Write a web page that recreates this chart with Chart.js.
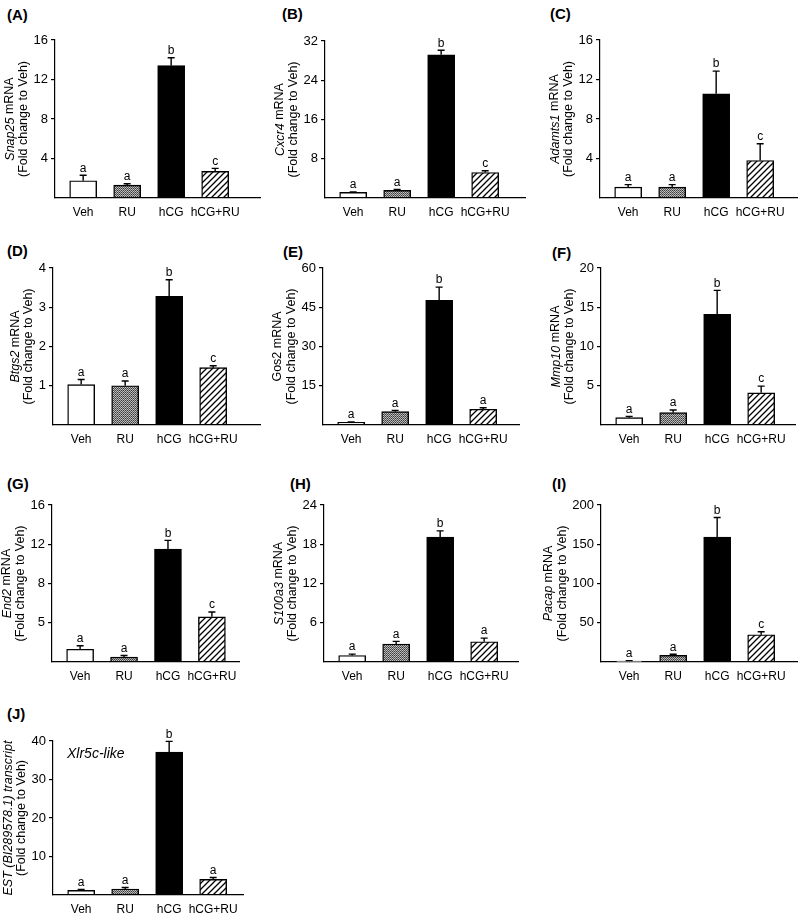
<!DOCTYPE html>
<html>
<head>
<meta charset="utf-8">
<script src="https://cdn.jsdelivr.net/npm/chart.js@4.4.1/dist/chart.umd.min.js"></script>
<style>
  body { margin: 0; background: #fff; }
  #fig { position: relative; width: 800px; height: 915px; overflow: hidden; font-family: "Liberation Sans", Arial, sans-serif; }
  #fig canvas { position: absolute; }
  .tag { position: absolute; font-weight: bold; font-size: 15px; line-height: 15px; color: #000; }
</style>
</head>
<body>
<div id="fig"></div>
<script>
// groups on the x axis, same for every panel
const groups = ['Veh', 'RU', 'hCG', 'hCG+RU']

// (A) Snap25
const snap25 = [1.75, 1.3, 13.4, 2.7]
const snap25Err = [0.55, 0.15, 0.8, 0.3]
const snap25Sig = ['a', 'a', 'b', 'c']
const snap25Ticks = ['4', '8', '12', '16']
// (B) Cxcr4
const cxcr4 = [1.15, 1.55, 29.2, 5.2]
const cxcr4Err = [0.1, 0.2, 0.9, 0.35]
const cxcr4Sig = ['a', 'a', 'b', 'c']
const cxcr4Ticks = ['8', '16', '24', '32']
// (C) Adamts1
const adamts1 = [1.1, 1.1, 10.55, 3.8]
const adamts1Err = [0.25, 0.25, 2.3, 1.7]
const adamts1Sig = ['a', 'a', 'b', 'c']
const adamts1Ticks = ['4', '8', '12', '16']
// (D) Btgs2
const btgs2 = [1.03, 1.0, 3.28, 1.46]
const btgs2Err = [0.13, 0.12, 0.42, 0.05]
const btgs2Sig = ['a', 'a', 'b', 'c']
const btgs2Ticks = ['1', '2', '3', '4']
// (E) Gos2
const gos2 = [1.0, 5.1, 47.6, 6.0]
const gos2Err = [0.2, 0.5, 5.1, 0.6]
const gos2Sig = ['a', 'a', 'b', 'a']
const gos2Ticks = ['15', '30', '45', '60']
// (F) Mmp10
const mmp10 = [0.93, 1.57, 14.1, 4.1]
const mmp10Err = [0.17, 0.35, 3.05, 0.85]
const mmp10Sig = ['a', 'a', 'b', 'c']
const mmp10Ticks = ['5', '10', '15', '20']
// (G) End2
const end2 = [1.3, 0.5, 11.5, 4.6]
const end2Err = [0.35, 0.17, 0.9, 0.5]
const end2Sig = ['a', 'a', 'b', 'c']
const end2Ticks = ['5', '8', '12', '16']
// (H) S100a3
const s100a3 = [1.0, 2.75, 19.1, 3.1]
const s100a3Err = [0.2, 0.4, 0.95, 0.55]
const s100a3Sig = ['a', 'a', 'b', 'a']
const s100a3Ticks = ['6', '12', '18', '24']
// (I) Pacap
const pacap = [1.3, 8.5, 159, 34.7]
const pacapErr = [0.5, 1.3, 25, 3.8]
const pacapSig = ['a', 'a', 'b', 'c']
const pacapTicks = ['50', '100', '150', '200']
// (J) EST BI289578.1
const est = [1.2, 1.55, 37.1, 4.05]
const estErr = [0.26, 0.4, 2.8, 0.5]
const estSig = ['a', 'a', 'b', 'a']
const estTicks = ['10', '20', '30', '40']

Chart.defaults.font.family = '"Liberation Sans", Arial, sans-serif'
Chart.defaults.color = '#000'

const YW = 62      // room for y ticks + title
const XH = 24      // room for x labels
const PT = 14      // top padding for letters above bars
const STEP = 44    // px between bar centres

function makeFill(kind) {
    if (kind === 'white') return '#ffffff'
    if (kind === 'black') return '#000000'
    const t = document.createElement('canvas')
    const c = t.getContext('2d')
    if (kind === 'dots') {
        t.width = 2; t.height = 2
        c.fillStyle = '#3a3a3a'; c.fillRect(0, 0, 1, 1)
        c.fillStyle = '#5a5a5a'; c.fillRect(1, 1, 1, 1)
        c.fillStyle = '#b0b0b0'; c.fillRect(1, 0, 1, 1)
        c.fillStyle = '#c4c4c4'; c.fillRect(0, 1, 1, 1)
    } else {
        const s = 6
        t.width = s; t.height = s
        c.fillStyle = '#fff'; c.fillRect(0, 0, s, s)
        c.strokeStyle = '#000'; c.lineWidth = 1.3
        c.beginPath()
        c.moveTo(0, s); c.lineTo(s, 0)
        c.moveTo(-1, 1); c.lineTo(1, -1)
        c.moveTo(s - 1, s + 1); c.lineTo(s + 1, s - 1)
        c.stroke()
    }
    return c.createPattern(t, 'repeat')
}
const fills = [makeFill('white'), makeFill('dots'), makeFill('black'), makeFill('hatch')]

const panels = [
    { tag: '(A)', tx: 7, ty: 7, ax: 55, end: 260, top: 40, bot: 198, yMax: 16, vals: snap25, err: snap25Err, sig: snap25Sig, ticks: snap25Ticks,
      t1: [['Snap25', true], [' mRNA', false]] },
    { tag: '(B)', tx: 282, ty: 6, ax: 325, end: 525, top: 41, bot: 198, yMax: 32, vals: cxcr4, err: cxcr4Err, sig: cxcr4Sig, ticks: cxcr4Ticks,
      t1: [['Cxcr4', true], [' mRNA', false]] },
    { tag: '(C)', tx: 550, ty: 6, ax: 600, end: 797, top: 40, bot: 198, yMax: 16, vals: adamts1, err: adamts1Err, sig: adamts1Sig, ticks: adamts1Ticks,
      t1: [['Adamts1', true], [' mRNA', false]] },
    { tag: '(D)', tx: 7, ty: 243, ax: 53, end: 260, top: 268, bot: 425, yMax: 4, vals: btgs2, err: btgs2Err, sig: btgs2Sig, ticks: btgs2Ticks,
      t1: [['Btgs2', true], [' mRNA', false]] },
    { tag: '(E)', tx: 283, ty: 244, ax: 323, end: 519, top: 268, bot: 425, yMax: 60, vals: gos2, err: gos2Err, sig: gos2Sig, ticks: gos2Ticks,
      t1: [['Gos2 mRNA', false]] },
    { tag: '(F)', tx: 552, ty: 245, ax: 601, end: 795, top: 268, bot: 425, yMax: 20, vals: mmp10, err: mmp10Err, sig: mmp10Sig, ticks: mmp10Ticks,
      t1: [['Mmp10', true], [' mRNA', false]] },
    { tag: '(G)', tx: 7, ty: 476, ax: 52, end: 240, top: 505, bot: 662, yMax: 16, vals: end2, err: end2Err, sig: end2Sig, ticks: end2Ticks,
      t1: [['End2', true], [' mRNA', false]] },
    { tag: '(H)', tx: 290, ty: 476, ax: 324, end: 518, top: 505, bot: 662, yMax: 24, vals: s100a3, err: s100a3Err, sig: s100a3Sig, ticks: s100a3Ticks,
      t1: [['S100a3', true], [' mRNA', false]] },
    { tag: '(I)', tx: 552, ty: 476, ax: 601, end: 797, top: 505, bot: 662, yMax: 200, vals: pacap, err: pacapErr, sig: pacapSig, ticks: pacapTicks,
      t1: [['Pacap', true], [' mRNA', false]] },
    { tag: '(J)', tx: 7, ty: 706, ax: 53, end: 243, top: 741, bot: 895, yMax: 40, vals: est, err: estErr, sig: estSig, ticks: estTicks,
      t1: [['EST (BI289578.1) transcript', true]], note: 'Xlr5c-like' },
]

// error bars, significance letters, y title and in-plot note
const extras = {
    id: 'extras',
    afterDatasetsDraw(chart, args, opts) {
        const p = opts.panel
        const ctx = chart.ctx
        const y = chart.scales.y
        const meta = chart.getDatasetMeta(0)
        ctx.save()
        ctx.strokeStyle = '#000'
        ctx.fillStyle = '#000'
        ctx.lineWidth = 1.4
        meta.data.forEach((bar, i) => {
            const yt = y.getPixelForValue(p.vals[i] + p.err[i])
            ctx.beginPath()
            ctx.moveTo(bar.x, bar.y)
            ctx.lineTo(bar.x, yt)
            ctx.moveTo(bar.x - 3.5, yt)
            ctx.lineTo(bar.x + 3.5, yt)
            ctx.stroke()
            ctx.font = '12px "Liberation Sans", Arial'
            ctx.textAlign = 'center'
            ctx.textBaseline = 'bottom'
            ctx.fillText(p.sig[i], bar.x, yt - 1)
        })
        // y title, two lines, rotated, placed left of the widest tick label
        const ca = chart.chartArea
        const cy = (ca.top + ca.bottom) / 2
        ctx.font = '13px "Liberation Sans", Arial'
        const tw = Math.max(...p.ticks.map(t => ctx.measureText(t).width))
        const x2 = ca.left - tw - 17
        const lines = [
            { x: x2 - 13.5, segs: p.t1 },
            { x: x2, segs: [['(Fold change to Veh)', false]] },
        ]
        lines.forEach(l => {
            ctx.save()
            ctx.translate(l.x, cy)
            ctx.rotate(-Math.PI / 2)
            ctx.textAlign = 'left'
            ctx.textBaseline = 'middle'
            let w = 0
            l.segs.forEach(s => {
                ctx.font = (s[1] ? 'italic ' : '') + '12.5px "Liberation Sans", Arial'
                w += ctx.measureText(s[0]).width
            })
            let x = -w / 2
            l.segs.forEach(s => {
                ctx.font = (s[1] ? 'italic ' : '') + '12.5px "Liberation Sans", Arial'
                ctx.fillText(s[0], x, 0)
                x += ctx.measureText(s[0]).width
            })
            ctx.restore()
        })
        if (p.note) {
            ctx.font = 'italic 14px "Liberation Sans", Arial'
            ctx.textAlign = 'left'
            ctx.textBaseline = 'middle'
            ctx.fillText(p.note, ca.left + 14, ca.top + 13)
        }
        ctx.restore()
    }
}

const fig = document.getElementById('fig')

panels.forEach(p => {
    const tag = document.createElement('div')
    tag.className = 'tag'
    tag.style.left = p.tx + 'px'
    tag.style.top = p.ty + 'px'
    tag.textContent = p.tag
    fig.appendChild(tag)

    const cv = document.createElement('canvas')
    const left = p.ax - YW
    const top = p.top - PT
    const w = p.end - left + 4
    const h = p.bot - top + XH
    cv.width = w; cv.height = h
    cv.style.left = left + 'px'
    cv.style.top = top + 'px'
    cv.style.width = w + 'px'
    cv.style.height = h + 'px'
    fig.appendChild(cv)

    new Chart(cv, {
        type: 'bar',
        data: {
            datasets: [{
                data: p.vals.map((v, i) => ({ x: i, y: v })),
                backgroundColor: fills,
                borderColor: '#000',
                borderWidth: 1.4,
                borderSkipped: false,
                barThickness: 27
            }]
        },
        options: {
            responsive: false,
            animation: false,
            layout: { padding: { top: PT, right: 4, left: 0, bottom: 0 } },
            plugins: { legend: { display: false }, tooltip: { enabled: false }, extras: { panel: p } },
            scales: {
                x: {
                    type: 'linear',
                    offset: false,
                    min: -0.64,
                    max: -0.64 + (p.end - p.ax) / STEP,
                    grid: { display: false, drawTicks: false },
                    border: { display: true, color: '#000', width: 1.2 },
                    afterBuildTicks: s => { s.ticks = groups.map((g, i) => ({ value: i })) },
                    ticks: { callback: v => groups[v], autoSkip: false, maxRotation: 0, padding: 7, color: '#000', font: { size: 12 } },
                    afterFit: s => { s.height = XH }
                },
                y: {
                    min: 0,
                    max: p.yMax,
                    grid: { display: true, drawOnChartArea: false, drawTicks: true, tickLength: 4, color: '#000', lineWidth: 1.2 },
                    border: { display: true, color: '#000', width: 1.2 },
                    afterBuildTicks: s => { s.ticks = p.ticks.map((t, k) => ({ value: (k + 1) * p.yMax / 4 })) },
                    ticks: { callback: (v, i) => p.ticks[i], color: '#000', font: { size: 13 }, padding: 3 },
                    afterFit: s => { s.width = YW }
                }
            }
        },
        plugins: [extras]
    })
})
</script>
</body>
</html>
